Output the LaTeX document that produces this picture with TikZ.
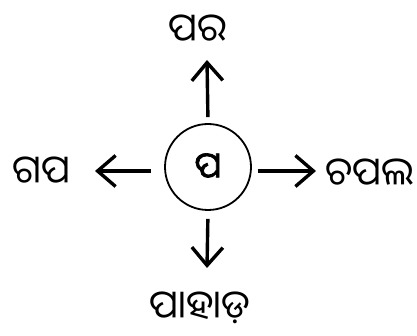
\documentclass[tikz,border=0pt]{standalone}
\usepackage{fontspec}
\newfontfamily\odia[Script=Oriya,AutoFakeBold=2]{Noto Sans Oriya UI}
\usetikzlibrary{arrows.meta,positioning}

\tikzset{
  word/.style={font=\odia\fontsize{39}{44}\selectfont,inner sep=0pt},
  hub/.style={draw,circle,line width=1.8pt,minimum size=86pt,inner sep=0pt,
              font=\odia\bfseries\fontsize{36}{40}\selectfont},
  arr/.style={line width=3.4pt,-{Straight Barb[length=18pt,width=31pt,line width=3.4pt]}}
}

\begin{document}
\begin{tikzpicture}[x=1pt,y=-1pt]
  \useasboundingbox (0,0) rectangle (417,336);

  % centre letter and the four words
  \node[hub]  (c)   at (208,167) {ପ};
  \node[word] (pr)  at (198,30)  {ପର};
  \node[word] (gp)  at (41,172)  {ଗପ};
  \node[word] (cpl) at (370,174) {ଚପଲ};
  \node[word] (phd) at (200,308) {ପାହାଡ଼};

  % arrow tips
  \coordinate (tipN) at (207,60);
  \coordinate (tipS) at (207,268);
  \coordinate (tipW) at (95,171);
  \coordinate (tipE) at (316,171);

  \draw[arr,shorten <=6pt]  (c.north) -- (tipN);
  \draw[arr,shorten <=8pt]  (c.south) -- (tipS);
  \draw[arr,shorten <=13pt] (c.west |- tipW) -- (tipW);
  \draw[arr,shorten <=6pt]  (c.east |- tipE) -- (tipE);
\end{tikzpicture}
\end{document}
